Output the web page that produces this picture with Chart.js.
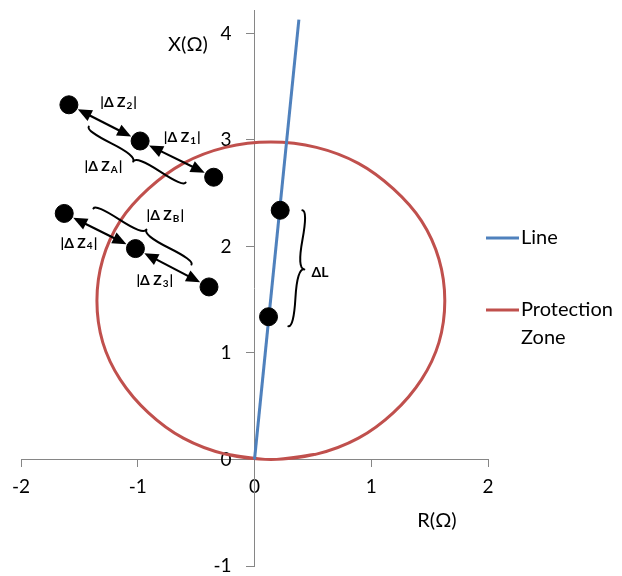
<!DOCTYPE html>
<html>
<head>
<meta charset="utf-8">
<script src="https://cdn.jsdelivr.net/npm/chart.js@4.4.0/dist/chart.umd.min.js"></script>
<style>
  html, body { margin: 0; padding: 0; background: #fff; }
  canvas { display: block; }
</style>
</head>
<body>
<canvas id="chart" width="622" height="576"></canvas>
<script>
// ---------------- Data ----------------
const xTicks = [-2, -1, 0, 1, 2];
const yTicks = [-1, 0, 1, 2, 3, 4];

// transmission line
const lineX = [0, 0.38];
const lineY = [0, 4.13];

// protection zone, read around the circle starting at its bottom
// (first and last points overlap the loop so the curve closes smoothly)
const zoneX = [-0.25, 0.14, 0.53, 0.89, 1.19, 1.43, 1.58, 1.63, 1.58, 1.43, 1.19, 0.89, 0.53,
  0.14, -0.25, -0.61, -0.91, -1.15, -1.30, -1.35, -1.30, -1.15, -0.91, -0.61, -0.25, 0.14, 0.53];
const zoneY = [0.05, 0.00, 0.05, 0.20, 0.44, 0.75, 1.10, 1.49, 1.88, 2.24, 2.54, 2.78, 2.93,
  2.98, 2.93, 2.78, 2.54, 2.24, 1.88, 1.49, 1.10, 0.75, 0.44, 0.20, 0.05, 0.00, 0.05];

// black markers
const dotX = [-1.59, -0.98, -0.35, -1.63, -1.02, -0.39, 0.22, 0.12];
const dotY = [3.33, 2.99, 2.65, 2.31, 1.98, 1.62, 2.34, 1.34];

const seriesNames = ["Line", "Protection Zone"];
const seriesColors = ["#4F81BD", "#C0504D"];

// ---------------- Annotations ----------------
const arrows = [[0, 1], [1, 2], [3, 4], [4, 5]]; // pairs of dot indices
const braces = [
  { from: [-1.42, 3.125], to: [-0.59, 2.60], depth: 8 },
  { from: [-1.38, 2.357], to: [-0.54, 1.83], depth: -8 },
  { from: [0.41, 2.34], to: [0.29, 1.25], depth: -9 },
];
const labels = [
  { at: [-1.16, 3.35], sub: "2" },
  { at: [-0.615, 3.02], sub: "1" },
  { at: [-1.29, 2.75], sub: "A" },
  { at: [-0.76, 2.29], sub: "B" },
  { at: [-1.50, 2.03], sub: "4" },
  { at: [-0.85, 1.68], sub: "3" },
  { at: [0.56, 1.76], text: "ΔL" },
];

const toPoints = (xs, ys) => xs.map((x, i) => ({ x, y: ys[i] }));

const FONT = "Lato, 'Open Sans', sans-serif";
const AXIS_COLOR = "#868686";

// ---------------- Drawing helpers ----------------
const drawArrow = (ctx, a, b, r) => {
  const dx = b.x - a.x, dy = b.y - a.y;
  const len = Math.hypot(dx, dy);
  const ux = dx / len, uy = dy / len;
  const nx = -uy, ny = ux;
  const s = { x: a.x + ux * (r + 1), y: a.y + uy * (r + 1) };
  const e = { x: b.x - ux * (r + 1), y: b.y - uy * (r + 1) };
  const hl = 14, hw = 6;
  ctx.beginPath();
  ctx.moveTo(s.x + ux * hl * 0.8, s.y + uy * hl * 0.8);
  ctx.lineTo(e.x - ux * hl * 0.8, e.y - uy * hl * 0.8);
  ctx.stroke();
  [[e, 1], [s, -1]].forEach(([p, d]) => {
    ctx.beginPath();
    ctx.moveTo(p.x, p.y);
    ctx.lineTo(p.x - d * ux * hl + nx * hw, p.y - d * uy * hl + ny * hw);
    ctx.lineTo(p.x - d * ux * hl - nx * hw, p.y - d * uy * hl - ny * hw);
    ctx.closePath();
    ctx.fill();
  });
};

const drawBrace = (ctx, x1, y1, x2, y2, w) => {
  const q = 0.6;
  let dx = x1 - x2, dy = y1 - y2;
  const len = Math.hypot(dx, dy);
  dx /= len; dy /= len;
  const qx1 = x1 + q * w * dy, qy1 = y1 - q * w * dx;
  const qx2 = (x1 - 0.25 * len * dx) + (1 - q) * w * dy, qy2 = (y1 - 0.25 * len * dy) - (1 - q) * w * dx;
  const tx = (x1 - 0.5 * len * dx) + w * dy, ty = (y1 - 0.5 * len * dy) - w * dx;
  const qx3 = x2 + q * w * dy, qy3 = y2 - q * w * dx;
  const qx4 = (x1 - 0.75 * len * dx) + (1 - q) * w * dy, qy4 = (y1 - 0.75 * len * dy) - (1 - q) * w * dx;
  ctx.beginPath();
  ctx.moveTo(x1, y1);
  ctx.quadraticCurveTo(qx1, qy1, qx2, qy2);
  ctx.quadraticCurveTo(2 * qx2 - qx1, 2 * qy2 - qy1, tx, ty);
  ctx.moveTo(x2, y2);
  ctx.quadraticCurveTo(qx3, qy3, qx4, qy4);
  ctx.quadraticCurveTo(2 * qx4 - qx3, 2 * qy4 - qy3, tx, ty);
  ctx.stroke();
};

const drawDeltaLabel = (ctx, cx, cy, lab) => {
  ctx.fillStyle = "#000";
  ctx.textBaseline = "middle";
  ctx.textAlign = "left";
  if (lab.text) {
    ctx.font = "bold 14px " + FONT;
    const w = ctx.measureText(lab.text).width;
    ctx.fillText(lab.text, cx - w / 2, cy);
    return;
  }
  const mainFont = "bold 14px " + FONT, subFont = "bold 10px " + FONT;
  const parts = [["|Δ Z", mainFont, 0], [lab.sub, subFont, 3], ["|", mainFont, 0]];
  let total = 0;
  parts.forEach(([t, f]) => { ctx.font = f; total += ctx.measureText(t).width + 1; });
  let x = cx - total / 2;
  parts.forEach(([t, f, off]) => {
    ctx.font = f;
    ctx.fillText(t, x, cy + off);
    x += ctx.measureText(t).width + 1;
  });
};

// ---------------- Plugin: annotations, titles, legend ----------------
const extras = {
  id: "extras",
  beforeDraw(chart) {
    // y tick labels sit left of the crossing axis, past the tick marks
    const { x, y } = chart.scales;
    const labelX = x.getPixelForValue(0) - 23;
    y.getLabelItems().forEach((item) => { item.options.translation[0] = labelX; });
  },
  afterDatasetsDraw(chart) {
    const { ctx, scales: { x, y } } = chart;
    const px = (v) => x.getPixelForValue(v);
    const py = (v) => y.getPixelForValue(v);
    ctx.save();

    // arrows
    ctx.strokeStyle = "#000";
    ctx.fillStyle = "#000";
    ctx.lineWidth = 2.2;
    arrows.forEach(([i, j]) => {
      drawArrow(ctx, { x: px(dotX[i]), y: py(dotY[i]) }, { x: px(dotX[j]), y: py(dotY[j]) }, 9);
    });

    // braces
    ctx.lineWidth = 2;
    ctx.lineCap = "round";
    braces.forEach((b) => {
      drawBrace(ctx, px(b.from[0]), py(b.from[1]), px(b.to[0]), py(b.to[1]), b.depth);
    });

    // labels
    labels.forEach((lab) => drawDeltaLabel(ctx, px(lab.at[0]), py(lab.at[1]), lab));

    // axis titles
    ctx.font = "20px " + FONT;
    ctx.fillStyle = "#000";
    ctx.textAlign = "center";
    ctx.textBaseline = "middle";
    ctx.fillText("X(Ω)", 188, 45);
    ctx.fillText("R(Ω)", 437, 521);

    // legend
    const legendRows = [[seriesNames[0]], ["Protection", "Zone"]];
    const legendY = [238, 310];
    ctx.textAlign = "left";
    legendRows.forEach((rows, i) => {
      ctx.strokeStyle = seriesColors[i];
      ctx.lineWidth = 3;
      ctx.lineCap = "butt";
      ctx.beginPath();
      ctx.moveTo(486, legendY[i]);
      ctx.lineTo(519, legendY[i]);
      ctx.stroke();
      rows.forEach((t, k) => ctx.fillText(t, 521, legendY[i] + k * 28));
    });
    ctx.restore();
  },
};

// ---------------- Chart ----------------
const tickFont = { family: FONT, size: 19, lineHeight: 0.9 };

new Chart(document.getElementById("chart"), {
  type: "scatter",
  data: {
    datasets: [
      {
        label: "markers",
        data: toPoints(dotX, dotY),
        pointRadius: 9,
        pointHoverRadius: 9,
        pointBackgroundColor: "#000",
        pointBorderColor: "#000",
        showLine: false,
      },
      {
        label: seriesNames[0],
        data: toPoints(lineX, lineY),
        showLine: true,
        borderColor: seriesColors[0],
        borderWidth: 3,
        pointRadius: 0,
      },
      {
        label: seriesNames[1],
        data: toPoints(zoneX, zoneY),
        showLine: true,
        borderColor: seriesColors[1],
        borderWidth: 3,
        pointRadius: 0,
        tension: 0.34,
      },
    ],
  },
  options: {
    responsive: false,
    animation: false,
    events: [],
    layout: { padding: { left: 20, right: 134, top: 9, bottom: 8 } },
    plugins: { legend: { display: false }, tooltip: { enabled: false } },
    scales: {
      x: {
        type: "linear",
        min: -2,
        max: 2,
        position: { y: 0 },
        afterBuildTicks: (s) => { s.ticks = xTicks.map((v) => ({ value: v })); },
        grid: { drawOnChartArea: false, drawTicks: true, tickLength: 7, color: AXIS_COLOR },
        border: { color: AXIS_COLOR, width: 1 },
        ticks: { font: tickFont, color: "#000", padding: 12, maxRotation: 0 },
      },
      y: {
        type: "linear",
        min: -1,
        max: 4.22,
        position: { x: 0 },
        afterBuildTicks: (s) => { s.ticks = yTicks.map((v) => ({ value: v })); },
        grid: { drawOnChartArea: false, drawTicks: true, tickLength: 8, color: AXIS_COLOR },
        border: { color: AXIS_COLOR, width: 1 },
        ticks: { font: tickFont, color: "#000", padding: 0 },
      },
    },
  },
  plugins: [extras],
});
</script>
</body>
</html>
